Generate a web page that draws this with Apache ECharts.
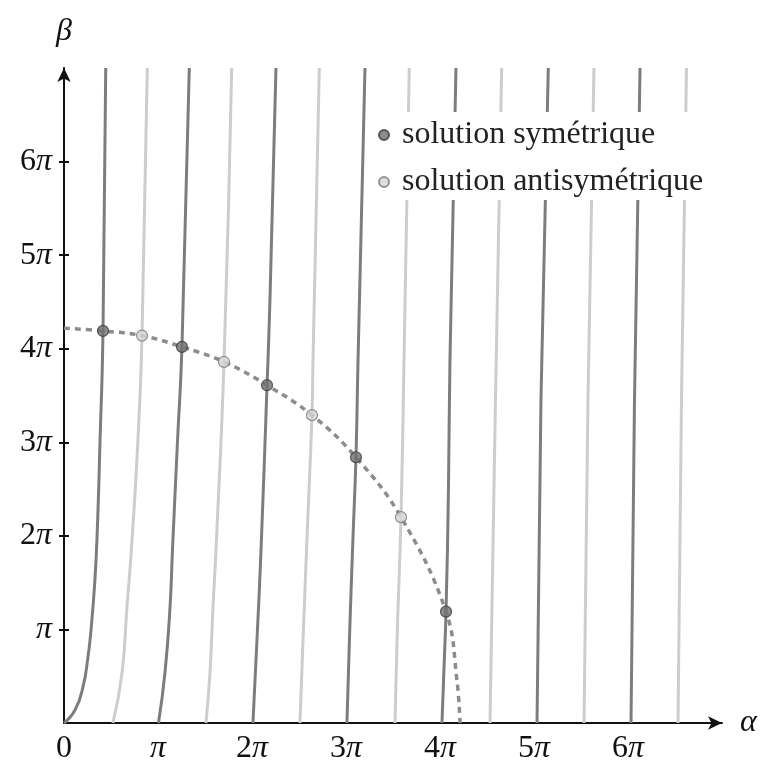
<!DOCTYPE html>
<html>
<head>
<meta charset="utf-8">
<script src="https://cdn.jsdelivr.net/npm/echarts@6/dist/echarts.min.js"></script>
<style>
  html, body { margin: 0; padding: 0; background: #fff; }
  #main { width: 762px; height: 767px; }
</style>
</head>
<body>
<div id="main"></div>
<script>
// all values in units of pi, [alpha, beta]
var symCurves = [
  [[0, 0], [0.117, 0.139], [0.202, 0.385], [0.255, 0.706], [0.288, 1.0], [0.327, 1.5], [0.352, 2.0], [0.383, 3.0], [0.415, 4.19], [0.444, 7.0]],
  [[1.005, 0], [1.074, 0.535], [1.128, 1.24], [1.154, 1.85], [1.207, 3.0], [1.255, 4.02], [1.333, 7.0]],
  [[2.01, 0], [2.053, 0.89], [2.096, 1.85], [2.16, 3.61], [2.191, 4.52], [2.255, 7.0]],
  [[3.01, 0], [3.04, 1.0], [3.075, 2.0], [3.106, 2.84], [3.128, 3.88], [3.202, 7.0]],
  [[4.021, 0], [4.043, 0.6], [4.064, 1.19], [4.09, 2.5], [4.106, 3.88], [4.17, 7.0]],
  [[5.032, 0], [5.074, 3.45], [5.152, 7.0]],
  [[6.032, 0], [6.069, 3.45], [6.128, 7.0]]
];
var antiCurves = [
  [[0.521, 0], [0.617, 0.535], [0.67, 1.24], [0.72, 1.9], [0.785, 3.0], [0.83, 4.14], [0.886, 7.0]],
  [[1.51, 0], [1.553, 0.535], [1.585, 1.24], [1.617, 1.85], [1.702, 3.86], [1.784, 7.0]],
  [[2.51, 0], [2.543, 0.89], [2.59, 2.1], [2.638, 3.29], [2.649, 3.88], [2.716, 7.0]],
  [[3.521, 0], [3.543, 0.89], [3.585, 2.2], [3.617, 3.88], [3.673, 7.0]],
  [[4.532, 0], [4.59, 3.45], [4.656, 7.0]],
  [[5.532, 0], [5.574, 3.45], [5.638, 7.0]],
  [[6.532, 0], [6.569, 3.45], [6.622, 7.0]]
];
var circlePts = [[0, 4.22], [0.415, 4.19], [0.83, 4.14], [1.255, 4.02], [1.702, 3.86], [2.16, 3.61], [2.638, 3.29], [3.106, 2.84], [3.585, 2.2], [4.064, 1.19], [4.18, 0.46], [4.213, 0]];
var symSolutions = [[0.415, 4.19], [1.255, 4.02], [2.16, 3.61], [3.106, 2.84], [4.064, 1.19]];
var antiSolutions = [[0.83, 4.14], [1.702, 3.86], [2.638, 3.29], [3.585, 2.2]];
var xTickLabels = ['0', 'π', '2π', '3π', '4π', '5π', '6π'];
var yTickLabels = ['', 'π', '2π', '3π', '4π', '5π', '6π'];
var yTickValues = [1, 2, 3, 4, 5, 6];

var serif = '"Liberation Serif", "DejaVu Serif", serif';
var darkLine = '#7d7d7d';
var lightLine = '#cdcdcd';

function piLabel(txt) {
  if (!txt) return '';
  if (txt === '0') return '{n|0}';
  var num = txt.slice(0, -1);
  return (num ? '{n|' + num + '}' : '') + '{p|π}';
}
var labelRich = {
  n: { fontFamily: serif, fontSize: 32, color: '#111' },
  p: { fontFamily: serif, fontSize: 32, fontStyle: 'italic', color: '#111' }
};

var series = [];
symCurves.forEach(function (c, i) {
  series.push({
    name: 'sym' + i, type: 'line', data: c, smooth: 0.5,
    showSymbol: false, silent: true, z: 2,
    lineStyle: { color: darkLine, width: 3 }
  });
});
antiCurves.forEach(function (c, i) {
  series.push({
    name: 'anti' + i, type: 'line', data: c, smooth: 0.5,
    showSymbol: false, silent: true, z: 2,
    lineStyle: { color: lightLine, width: 3 }
  });
});
series.push({
  name: 'cercle', type: 'line', data: circlePts, smooth: 0.4, showSymbol: false, silent: true, z: 3,
  lineStyle: { color: '#8c8c8c', width: 3.5, type: [6, 5] }
});
series.push({
  name: 'solution symétrique', type: 'scatter', data: symSolutions, symbol: 'circle', symbolSize: 11, z: 5,
  itemStyle: { color: '#6f6f6f', borderColor: '#3c3c3c', borderWidth: 1.2 }
});
series.push({
  name: 'solution antisymétrique', type: 'scatter', data: antiSolutions, symbol: 'circle', symbolSize: 11, z: 5,
  itemStyle: { color: '#d6d6d6', borderColor: '#7c7c7c', borderWidth: 1.2 }
});

var myChart = echarts.init(document.getElementById('main'));
myChart.setOption({
  animation: false,
  backgroundColor: '#fff',
  grid: { left: 64, right: 40, top: 68, bottom: 44 },
  legend: {
    data: ['solution symétrique', 'solution antisymétrique'],
    orient: 'vertical',
    left: 372, top: 112,
    padding: [7, 8, 2, 6],
    itemGap: 15, itemWidth: 10, itemHeight: 10,
    icon: 'circle',
    backgroundColor: '#fff',
    textStyle: { fontFamily: serif, fontSize: 32, color: '#222', padding: [0, 0, 0, 8] }
  },
  xAxis: {
    type: 'value', min: 0, max: 7, interval: 1,
    name: 'α', nameLocation: 'end', nameGap: 18,
    nameTextStyle: { fontFamily: serif, fontSize: 32, fontStyle: 'italic', color: '#111' },
    axisLine: { lineStyle: { color: '#111', width: 2 }, symbol: ['none', 'arrow'], symbolSize: [10, 14] },
    axisTick: { show: false },
    splitLine: { show: false },
    axisLabel: {
      margin: 10, showMaxLabel: false,
      formatter: function (v) { return piLabel(xTickLabels[Math.round(v)]); },
      rich: labelRich
    }
  },
  yAxis: [{
    type: 'value', min: 0, max: 7, interval: 1,
    name: 'β', nameLocation: 'end', nameGap: 20,
    nameTextStyle: { fontFamily: serif, fontSize: 32, fontStyle: 'italic', color: '#111', align: 'center' },
    axisLine: { lineStyle: { color: '#111', width: 2 }, symbol: ['none', 'arrow'], symbolSize: [10, 14] },
    axisTick: { show: true, length: 5, customValues: yTickValues, lineStyle: { color: '#111', width: 2 } },
    splitLine: { show: false },
    axisLabel: {
      margin: 12, showMaxLabel: false,
      formatter: function (v) { return piLabel(yTickLabels[Math.round(v)]); },
      rich: labelRich
    }
  }, {
    type: 'value', min: 0, max: 7, interval: 1, position: 'left', offset: 0,
    axisLine: { show: false },
    axisTick: { show: true, inside: true, length: 5, customValues: yTickValues, lineStyle: { color: '#111', width: 2 } },
    axisLabel: { show: false },
    splitLine: { show: false }
  }],
  series: series
});
</script>
</body>
</html>
